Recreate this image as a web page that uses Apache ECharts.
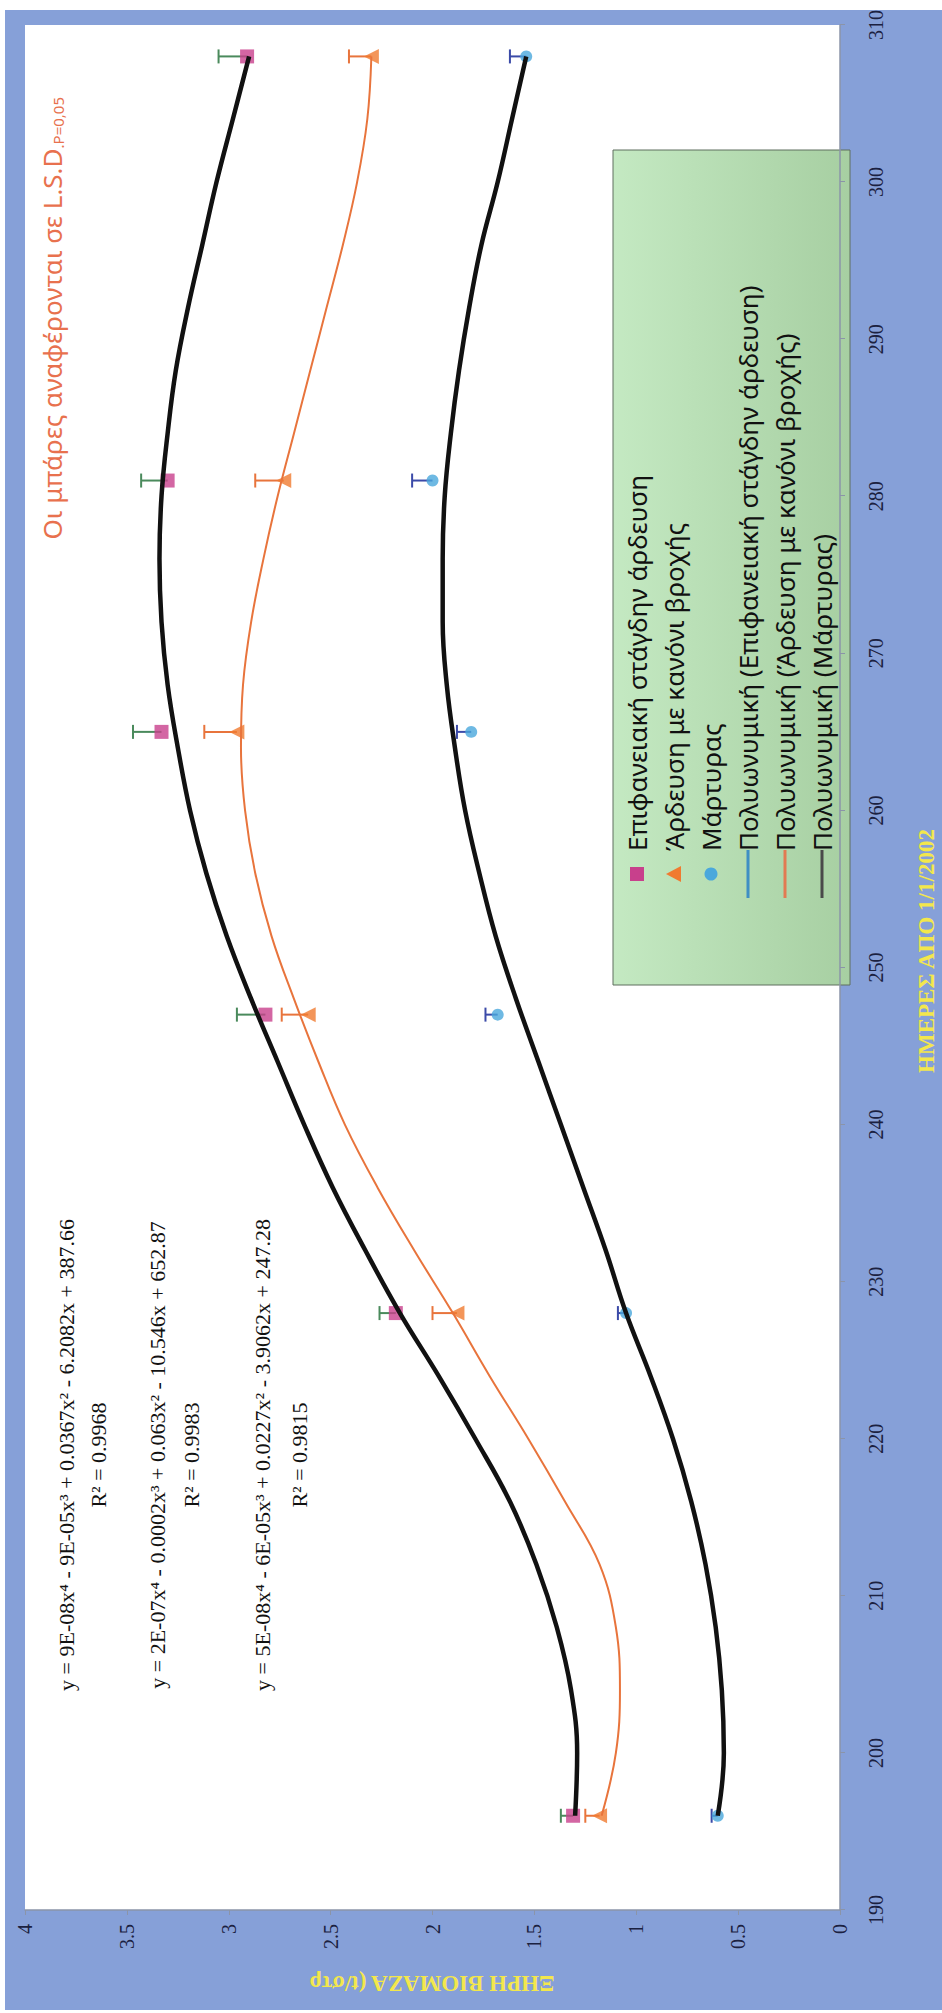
<!DOCTYPE html>
<html>
<head>
<meta charset="utf-8">
<title>Ξηρή βιομάζα</title>
<script src="https://cdn.jsdelivr.net/npm/echarts@6/dist/echarts.min.js"></script>
<style>
  html, body { margin: 0; padding: 0; background: #ffffff; width: 942px; height: 2013px; overflow: hidden; }
  /* The chart is laid out landscape and turned a quarter turn so the day axis runs up the right side */
  #chart { position: absolute; left: 0; top: 0; width: 2013px; height: 942px;
           transform-origin: 0 0; transform: translateY(2013px) rotate(-90deg); }
</style>
</head>
<body>
<div id="chart"></div>
<script>
// ---- sampling dates (days from 1/1/2002) ----
const sampleDays = [196, 228, 247, 265, 281, 308];

// ---- dry biomass (t/στρ) per treatment ----
const dripIrrigation      = [1.31, 2.18, 2.82, 3.33, 3.30, 2.91];
const sprinklerIrrigation = [1.18, 1.88, 2.61, 2.96, 2.73, 2.30];
const controlPlot         = [0.60, 1.05, 1.68, 1.81, 2.00, 1.54];

// ---- L.S.D. bar lengths ----
const lsdDrip      = [0.06, 0.08, 0.14, 0.14, 0.13, 0.14];
const lsdSprinkler = [0.07, 0.12, 0.13, 0.16, 0.14, 0.11];
const lsdControl   = [0.03, 0.04, 0.06, 0.07, 0.10, 0.08];

// ---- polynomial trend curves, read along the day axis ----
const trendDays = [196, 200, 204, 208, 212, 216, 220, 224, 228, 232, 236, 240, 244, 248, 252,
                   256, 260, 264, 268, 272, 276, 280, 284, 288, 292, 296, 300, 304, 308];
const trendDrip = [1.30, 1.29, 1.32, 1.39, 1.49, 1.62, 1.79, 1.97, 2.16, 2.33, 2.49, 2.63, 2.76, 2.89, 3.01,
                   3.11, 3.19, 3.25, 3.30, 3.33, 3.34, 3.33, 3.30, 3.26, 3.20, 3.13, 3.06, 2.98, 2.90];
const trendSprinkler = [1.17, 1.10, 1.08, 1.10, 1.18, 1.35, 1.53, 1.72, 1.90, 2.09, 2.27, 2.43, 2.56, 2.68, 2.79,
                        2.87, 2.92, 2.94, 2.93, 2.89, 2.83, 2.76, 2.68, 2.60, 2.52, 2.44, 2.37, 2.32, 2.30];
const trendControl = [0.60, 0.57, 0.58, 0.61, 0.66, 0.73, 0.82, 0.93, 1.05, 1.15, 1.26, 1.37, 1.48, 1.59, 1.69,
                      1.77, 1.84, 1.89, 1.93, 1.95, 1.95, 1.94, 1.91, 1.87, 1.82, 1.76, 1.68, 1.61, 1.54];

// ---- axis ranges ----
const dayAxis = { min: 190, max: 310, step: 10 };
const biomassAxis = { min: 0, max: 4, step: 0.5 };

// ---- texts ----
const seriesNames = [
  'Επιφανειακή στάγδην άρδευση',
  'Άρδευση με κανόνι βροχής',
  'Μάρτυρας',
  'Πολυωνυμική (Επιφανειακή στάγδην άρδευση)',
  'Πολυωνυμική (Άρδευση με κανόνι βροχής)',
  'Πολυωνυμική (Μάρτυρας)'
];
const equations = [
  'y = 9E-08x⁴ - 9E-05x³ + 0.0367x² - 6.2082x + 387.66',
  'y = 2E-07x⁴ - 0.0002x³ + 0.063x² - 10.546x + 652.87',
  'y = 5E-08x⁴ - 6E-05x³ + 0.0227x² - 3.9062x + 247.28'
];
const r2Labels = ['R² = 0.9968', 'R² = 0.9983', 'R² = 0.9815'];
const dayTitle = 'ΗΜΕΡΕΣ ΑΠΟ 1/1/2002';
const biomassTitle = 'ΞΗΡΗ ΒΙΟΜΑΖΑ (t/στρ';
const lsdNote = ['Οι μπάρες αναφέρονται σε L.S.D', '.P=0,05'];

// ---- styling ----
const FRAME = '#86a0d8';
const TITLE_YELLOW = '#f3e74c';
const LABEL_COLOR = '#1b2140';
const SERIF = '"Liberation Serif", "Times New Roman", serif';
const SANS = '"Noto Sans", "Open Sans", sans-serif';
const PINK = '#c8408c', ORANGE = '#f07a30', BLUE = '#4aa8dc';

const pairs = (xs, ys) => xs.map((x, i) => [x, ys[i]]);

function lsdBars(values, lsd, color) {
  return {
    type: 'custom',
    silent: true,
    z: 3,
    data: sampleDays.map((d, i) => [d, values[i], values[i] + lsd[i]]),
    renderItem(params, api) {
      const base = api.coord([api.value(0), api.value(1)]);
      const top = api.coord([api.value(0), api.value(2)]);
      const cap = 7;
      return {
        type: 'group',
        children: [
          { type: 'line', shape: { x1: base[0], y1: base[1], x2: top[0], y2: top[1] },
            style: { stroke: color, lineWidth: 2 } },
          { type: 'line', shape: { x1: top[0] - cap, y1: top[1], x2: top[0] + cap, y2: top[1] },
            style: { stroke: color, lineWidth: 2 } }
        ]
      };
    }
  };
}

function trendLine(name, ys, color, width) {
  return {
    name, type: 'line', data: pairs(trendDays, ys),
    smooth: 0.4, showSymbol: false, symbol: 'none', silent: true, z: 6,
    lineStyle: { color, width }
  };
}

// ---- legend drawn as a panel of graphic elements ----
const LEG = { x: 1028, y: 613, w: 835, h: 237 };
const legRowY = [24, 61, 98, 135, 172, 209];
const legIconX = 111, legTextX = 134;
const legendIcons = [
  { type: 'rect', shape: { x: legIconX - 7, y: -7, width: 14, height: 14 }, style: { fill: PINK } },
  { type: 'polygon', shape: { points: [[legIconX, -8], [legIconX + 8, 7], [legIconX - 8, 7]] }, style: { fill: ORANGE } },
  { type: 'circle', shape: { cx: legIconX, cy: 0, r: 6.5 }, style: { fill: BLUE } },
  { type: 'line', shape: { x1: legIconX - 24, y1: 0, x2: legIconX + 24, y2: 0 }, style: { stroke: '#3f8fc4', lineWidth: 3 } },
  { type: 'line', shape: { x1: legIconX - 24, y1: 0, x2: legIconX + 24, y2: 0 }, style: { stroke: '#e27a52', lineWidth: 3 } },
  { type: 'line', shape: { x1: legIconX - 24, y1: 0, x2: legIconX + 24, y2: 0 }, style: { stroke: '#4a4a4a', lineWidth: 3 } }
];
const legendChildren = [
  { type: 'rect', shape: { x: 0, y: 0, width: LEG.w, height: LEG.h },
    style: { fill: new echarts.graphic.LinearGradient(0, 0, 0, 1, [
      { offset: 0, color: '#c4e9c2' }, { offset: 1, color: '#a7cfa2' }]),
      stroke: '#5f6f5f', lineWidth: 1 } }
];
seriesNames.forEach((name, i) => {
  legendChildren.push({ type: 'group', x: 0, y: legRowY[i], children: [legendIcons[i]] });
  legendChildren.push({ type: 'text', x: legTextX, y: legRowY[i],
    style: { text: name, fontFamily: SANS, fontSize: 26, fill: '#111', textVerticalAlign: 'middle', textAlign: 'left' } });
});

// ---- trend equations ----
const eqRowsY = [66, 157, 262];
const r2RowsY = [98, 191, 299];
const eqCenterX = 558;
const equationTexts = [];
equations.forEach((eq, i) => {
  equationTexts.push({ type: 'text', x: eqCenterX, y: eqRowsY[i], z: 20,
    style: { text: eq, fontFamily: SERIF, fontSize: 22, fill: '#111', textAlign: 'center', textVerticalAlign: 'middle' } });
  equationTexts.push({ type: 'text', x: eqCenterX, y: r2RowsY[i], z: 20,
    style: { text: r2Labels[i], fontFamily: SERIF, fontSize: 22, fill: '#111', textAlign: 'center', textVerticalAlign: 'middle' } });
});

const chart = echarts.init(document.getElementById('chart'), null, { renderer: 'svg', width: 2013, height: 942 });

chart.setOption({
  backgroundColor: FRAME,
  animation: false,
  grid: { left: 103, right: 25, top: 25, bottom: 102, show: true, backgroundColor: '#ffffff', borderWidth: 0 },
  xAxis: {
    type: 'value', min: dayAxis.min, max: dayAxis.max, interval: dayAxis.step,
    axisLine: { show: true, onZero: false, lineStyle: { color: '#8b94a8', width: 1.5 } },
    axisTick: { show: true, length: 5, lineStyle: { color: '#8b94a8' } },
    axisLabel: { color: LABEL_COLOR, fontFamily: SERIF, fontSize: 20, margin: 26 },
    splitLine: { show: false }
  },
  yAxis: {
    type: 'value', min: biomassAxis.min, max: biomassAxis.max, interval: biomassAxis.step,
    axisLine: { show: true, onZero: false, lineStyle: { color: '#8b94a8', width: 1.5 } },
    axisTick: { show: true, length: 5, lineStyle: { color: '#8b94a8' } },
    axisLabel: { color: LABEL_COLOR, fontFamily: SERIF, fontSize: 20, margin: 14 },
    splitLine: { show: false }
  },
  graphic: [
    // white margins round the blue frame
    { type: 'rect', silent: true, shape: { x: 0, y: 0, width: 3, height: 942 }, style: { fill: '#ffffff' } },
    { type: 'rect', silent: true, shape: { x: 2003, y: 0, width: 10, height: 942 }, style: { fill: '#ffffff' } },
    { type: 'rect', silent: true, shape: { x: 0, y: 0, width: 2013, height: 5 }, style: { fill: '#ffffff' } },
    // axis titles
    { type: 'text', x: 1062, y: 926, z: 20,
      style: { text: dayTitle, fontFamily: SERIF, fontWeight: 'bold', fontSize: 23, fill: TITLE_YELLOW,
               textAlign: 'center', textVerticalAlign: 'middle' } },
    { type: 'text', x: 30, y: 432, rotation: Math.PI / 2, z: 20,
      style: { text: biomassTitle, fontFamily: SERIF, fontWeight: 'bold', fontSize: 23, fill: TITLE_YELLOW,
               textAlign: 'center', textVerticalAlign: 'middle' } },
    // note on the bars
    { type: 'text', x: 1916, y: 52, z: 20,
      style: { text: '{a|' + lsdNote[0] + '}{b|' + lsdNote[1] + '}', textAlign: 'right', textVerticalAlign: 'middle',
               rich: { a: { fontFamily: SANS, fontSize: 26, fill: '#e8714e', color: '#e8714e', verticalAlign: 'bottom' },
                       b: { fontFamily: SANS, fontSize: 15, fill: '#e8714e', color: '#e8714e', verticalAlign: 'bottom' } } } },
    ...equationTexts,
    { type: 'group', x: LEG.x, y: LEG.y, z: 30, children: legendChildren }
  ],
  series: [
    lsdBars(dripIrrigation, lsdDrip, '#4a8a5c'),
    lsdBars(sprinklerIrrigation, lsdSprinkler, '#e8743c'),
    lsdBars(controlPlot, lsdControl, '#3b4aa8'),
    { name: seriesNames[0], type: 'scatter', data: pairs(sampleDays, dripIrrigation), z: 5,
      symbol: 'rect', symbolSize: 14, itemStyle: { color: PINK } },
    { name: seriesNames[1], type: 'scatter', data: pairs(sampleDays, sprinklerIrrigation), z: 5,
      symbol: 'triangle', symbolSize: 15, itemStyle: { color: ORANGE } },
    { name: seriesNames[2], type: 'scatter', data: pairs(sampleDays, controlPlot), z: 5,
      symbol: 'circle', symbolSize: 12, itemStyle: { color: BLUE } },
    trendLine(seriesNames[3], trendDrip, '#111111', 4.5),
    trendLine(seriesNames[4], trendSprinkler, '#e8743c', 2),
    trendLine(seriesNames[5], trendControl, '#111111', 4.5)
  ]
});
</script>
</body>
</html>
